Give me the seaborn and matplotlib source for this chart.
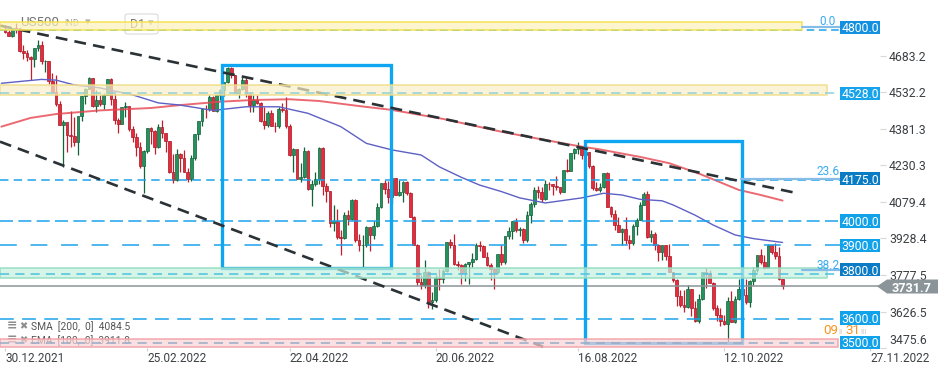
import matplotlib
matplotlib.use("Agg")
import matplotlib.pyplot as plt
import matplotlib.transforms as mtransforms
from matplotlib.patches import Rectangle, Polygon, FancyBboxPatch
from matplotlib.colors import to_rgba
import numpy as np
import pandas as pd
import seaborn as sns

# ---------------- data (daily candles, 30.12.2021 .. 03.11.2022) ----------------
opens = [4794, 4779, 4766, 4797, 4794, 4701, 4696, 4677, 4670, 4713,
         4726, 4659, 4663, 4577, 4533, 4483, 4398, 4410, 4356, 4350,
         4327, 4432, 4516, 4547, 4589, 4477, 4501, 4484, 4522, 4587,
         4504, 4419, 4402, 4471, 4475, 4380, 4349, 4305, 4226, 4289,
         4385, 4374, 4306, 4387, 4363, 4329, 4201, 4171, 4278, 4260,
         4204, 4173, 4262, 4358, 4412, 4463, 4461, 4512, 4456, 4520,
         4543, 4576, 4632, 4602, 4530, 4546, 4583, 4525, 4481, 4500,
         4488, 4413, 4397, 4447, 4393, 4392, 4462, 4459, 4394, 4272,
         4296, 4175, 4184, 4288, 4132, 4155, 4175, 4300, 4147, 4123,
         3991, 4001, 3935, 3930, 4024, 4008, 4089, 3924, 3901, 3901,
         3974, 3941, 3979, 4058, 4158, 4132, 4101, 4177, 4109, 4121,
         4161, 4116, 4018, 3901, 3750, 3735, 3790, 3667, 3675, 3765,
         3760, 3796, 3912, 3900, 3822, 3819, 3785, 3825, 3831, 3845,
         3903, 3899, 3854, 3819, 3802, 3790, 3863, 3831, 3937, 3960,
         3999, 3962, 3967, 3921, 4024, 4072, 4130, 4119, 4091, 4155,
         4152, 4145, 4140, 4122, 4210, 4207, 4280, 4297, 4305, 4274,
         4284, 4228, 4138, 4129, 4141, 4199, 4058, 4031, 3986, 3955,
         3967, 3924, 3908, 3980, 4006, 4067, 4110, 3933, 3946, 3901,
         3873, 3900, 3856, 3790, 3758, 3693, 3655, 3647, 3719, 3640,
         3586, 3678, 3791, 3783, 3745, 3640, 3612, 3589, 3577, 3670,
         3583, 3678, 3720, 3695, 3666, 3753, 3797, 3859, 3831, 3807,
         3901, 3872, 3856, 3760]
highs = [4808, 4787, 4797, 4819, 4798, 4725, 4707, 4680, 4715, 4749,
         4745, 4666, 4663, 4612, 4603, 4495, 4418, 4411, 4453, 4429,
         4433, 4516, 4550, 4595, 4590, 4540, 4521, 4527, 4588, 4590,
         4527, 4427, 4472, 4490, 4476, 4394, 4362, 4327, 4295, 4385,
         4389, 4375, 4401, 4417, 4365, 4330, 4277, 4299, 4280, 4292,
         4219, 4271, 4358, 4412, 4465, 4481, 4522, 4515, 4521, 4546,
         4576, 4637, 4635, 4605, 4548, 4593, 4594, 4527, 4521, 4520,
         4490, 4472, 4453, 4460, 4411, 4471, 4488, 4513, 4400, 4300,
         4299, 4240, 4308, 4295, 4169, 4201, 4308, 4305, 4158, 4125,
         4068, 4050, 3965, 4039, 4046, 4090, 4092, 3946, 3944, 3981,
         3976, 3999, 4075, 4158, 4169, 4167, 4177, 4179, 4169, 4164,
         4165, 4119, 4020, 3905, 3778, 3838, 3795, 3707, 3779, 3801,
         3802, 3913, 3928, 3945, 3836, 3822, 3829, 3832, 3870, 3910,
         3918, 3900, 3874, 3829, 3806, 3863, 3902, 3939, 3975, 3999,
         4013, 3975, 3970, 4040, 4079, 4140, 4144, 4141, 4168, 4162,
         4155, 4187, 4142, 4211, 4258, 4280, 4301, 4325, 4310, 4292,
         4286, 4230, 4160, 4157, 4200, 4203, 4062, 4044, 4016, 3971,
         4018, 3943, 3987, 4011, 4077, 4119, 4125, 3962, 3957, 3905,
         3900, 3902, 3907, 3792, 3760, 3715, 3717, 3737, 3720, 3672,
         3698, 3791, 3807, 3798, 3748, 3652, 3641, 3611, 3686, 3712,
         3689, 3762, 3725, 3763, 3758, 3810, 3862, 3886, 3860, 3906,
         3903, 3911, 3894, 3762]
lows = [4775, 4765, 4758, 4775, 4700, 4671, 4663, 4582, 4638, 4703,
        4650, 4614, 4568, 4531, 4475, 4395, 4222, 4287, 4305, 4309,
        4273, 4415, 4484, 4544, 4471, 4452, 4474, 4464, 4520, 4478,
        4402, 4364, 4400, 4429, 4373, 4328, 4267, 4221, 4115, 4280,
        4317, 4279, 4300, 4345, 4284, 4199, 4157, 4165, 4201, 4202,
        4162, 4165, 4251, 4335, 4393, 4425, 4455, 4455, 4450, 4501,
        4517, 4570, 4589, 4530, 4507, 4540, 4514, 4450, 4451, 4485,
        4408, 4381, 4390, 4392, 4367, 4385, 4452, 4385, 4268, 4201,
        4175, 4163, 4180, 4128, 4063, 4145, 4153, 4106, 4077, 3975,
        3958, 3928, 3859, 3925, 3984, 4005, 3912, 3876, 3810, 3895,
        3875, 3925, 3975, 4055, 4110, 4074, 4075, 4107, 4105, 4080,
        4107, 4018, 3901, 3735, 3722, 3723, 3640, 3637, 3665, 3717,
        3743, 3790, 3889, 3820, 3800, 3739, 3753, 3742, 3810, 3840,
        3876, 3850, 3814, 3759, 3722, 3785, 3818, 3825, 3928, 3927,
        3955, 3938, 3911, 3915, 3992, 4060, 4097, 4080, 4088, 4127,
        4107, 4128, 4112, 4120, 4201, 4205, 4256, 4277, 4255, 4262,
        4218, 4129, 4124, 4121, 4138, 4057, 4017, 3965, 3954, 3903,
        3907, 3886, 3900, 3944, 4004, 4065, 3929, 3913, 3880, 3837,
        3839, 3838, 3789, 3749, 3648, 3644, 3623, 3640, 3610, 3584,
        3580, 3675, 3723, 3745, 3633, 3589, 3569, 3570, 3492, 3584,
        3580, 3675, 3665, 3657, 3647, 3736, 3790, 3824, 3803, 3805,
        3863, 3843, 3758, 3722]
closes = [4779, 4766, 4797, 4794, 4701, 4696, 4677, 4670, 4713, 4726,
          4659, 4663, 4577, 4533, 4483, 4398, 4410, 4356, 4350, 4327,
          4432, 4516, 4547, 4589, 4477, 4501, 4484, 4522, 4587, 4504,
          4419, 4402, 4471, 4475, 4380, 4349, 4305, 4226, 4289, 4385,
          4374, 4306, 4387, 4363, 4329, 4201, 4171, 4278, 4260, 4204,
          4173, 4262, 4358, 4412, 4463, 4461, 4512, 4456, 4520, 4543,
          4576, 4632, 4602, 4530, 4546, 4583, 4525, 4481, 4500, 4488,
          4413, 4397, 4447, 4393, 4392, 4462, 4459, 4394, 4272, 4296,
          4175, 4184, 4288, 4132, 4155, 4175, 4300, 4147, 4123, 3991,
          4001, 3935, 3930, 4024, 4008, 4089, 3924, 3901, 3901, 3974,
          3941, 3979, 4058, 4158, 4132, 4101, 4177, 4109, 4121, 4161,
          4116, 4018, 3901, 3750, 3735, 3790, 3667, 3675, 3765, 3760,
          3796, 3912, 3900, 3822, 3819, 3785, 3825, 3831, 3845, 3903,
          3899, 3854, 3819, 3802, 3790, 3863, 3831, 3937, 3960, 3999,
          3962, 3967, 3921, 4024, 4072, 4130, 4119, 4091, 4155, 4152,
          4145, 4140, 4122, 4210, 4207, 4280, 4297, 4305, 4274, 4284,
          4228, 4138, 4129, 4141, 4199, 4058, 4031, 3986, 3955, 3967,
          3924, 3908, 3980, 4006, 4067, 4110, 3933, 3946, 3901, 3873,
          3900, 3856, 3790, 3758, 3693, 3655, 3647, 3719, 3640, 3586,
          3678, 3791, 3783, 3745, 3640, 3612, 3589, 3577, 3670, 3583,
          3678, 3720, 3695, 3666, 3753, 3797, 3859, 3831, 3807, 3901,
          3872, 3856, 3760, 3732]

# moving averages (bar index, value)
sma_idx = [-1, 7, 14, 26, 40, 48, 59, 68, 78, 86, 97, 106, 120, 136, 144,
           157, 163, 174, 182, 190, 201, 207, 213]
sma_vals = [4390, 4426, 4442, 4457, 4467, 4479, 4493, 4500, 4503, 4496, 4475,
            4459, 4422, 4369, 4346, 4310, 4296, 4265, 4239, 4197, 4129, 4108, 4085]
ema_idx = [-1, 10, 14, 19, 26, 35, 42, 48, 57, 66, 75, 83, 92, 99, 106, 114,
           119, 125, 130, 136, 141, 148, 158, 164, 169, 174, 180, 183, 189,
           194, 200, 205, 213]
ema_vals = [4569, 4585, 4582, 4562, 4550, 4521, 4488, 4479, 4457, 4472, 4472,
            4445, 4390, 4321, 4294, 4273, 4224, 4181, 4149, 4122, 4096, 4075,
            4096, 4115, 4108, 4090, 4084, 4067, 4025, 3984, 3943, 3928, 3912]

date_tick_pos = [0, 39, 78, 118, 157, 197, 237]
date_tick_labels = ["30.12.2021", "25.02.2022", "22.04.2022", "20.06.2022",
                    "16.08.2022", "12.10.2022", "27.11.2022"]
price_ticks = [4683.2, 4532.2, 4381.3, 4230.3, 4079.4, 3928.4, 3777.5, 3626.5, 3475.6]

level_values = [4800, 4528, 4175, 4000, 3900, 3800, 3600, 3500]
level_labels = ["4800.0", "4528.0", "4175.0", "4000.0", "3900.0", "3800.0", "3600.0", "3500.0"]
dashed_levels = [4788, 4170, 4000, 3900, 3597]
zone_low = [4787, 4520, 3764, 3481]
zone_high = [4820, 4562, 3805, 3514]
zone_mid = [4788, 4529, 3781, 3498]
fib_names = ["0.0", "23.6", "38.2"]
fib_values = [4801, 4174, 3798]
last_price = 3731.7

trend_upper_x, trend_upper_y = [-1.37, 215.9], [4807, 4119]
trend_lower_x, trend_lower_y = [-1.37, 147.4], [4328, 3482]
box1_x, box1_y = [59.5, 105.8], [3806, 4644]
box2_x, box2_y = [158.9, 201.9], [3499, 4332]

# ---------------- styling ----------------
sns.set_theme(style="white")
plt.rcParams["font.family"] = ["Roboto", "DejaVu Sans"]

W, H = 949, 373
fig = plt.figure(figsize=(W / 100, H / 100), dpi=100)
fig.patch.set_facecolor("white")
AX_BOTTOM = 348.35
AX_RIGHT = 880.0
ax = fig.add_axes([0, 1 - AX_BOTTOM / H, AX_RIGHT / W, AX_BOTTOM / H])
ax.set_facecolor("white")
ax.set_xlim(-1.37, 239.7)
ax.set_ylim(3475.0, 4912.7)
for s in ax.spines.values():
    s.set_visible(False)

def fx(px):
    return px / W

def fy(py):
    return 1 - py / H

blend = mtransforms.blended_transform_factory(ax.transAxes, ax.transData)

# ---------------- candles ----------------
x = np.arange(len(closes))
o = np.array(opens, float)
h = np.array(highs, float)
l = np.array(lows, float)
c = np.array(closes, float)
up = c >= o
body_lo = np.minimum(o, c)
body_h = np.maximum(np.abs(c - o), 2.5)
GREEN, GREEN_E = "#23935d", "#14603a"
RED, RED_E = "#e52b3c", "#a81624"
ax.vlines(x[up], l[up], h[up], color=GREEN_E, lw=0.9, zorder=2)
ax.vlines(x[~up], l[~up], h[~up], color="#c41e2e", lw=0.9, zorder=2)
ax.bar(x[up], body_h[up], bottom=body_lo[up], width=0.74, color=GREEN,
       edgecolor=GREEN_E, linewidth=0.5, zorder=2.5)
ax.bar(x[~up], body_h[~up], bottom=body_lo[~up], width=0.74, color=RED,
       edgecolor=RED_E, linewidth=0.5, zorder=2.5)

# ---------------- moving averages (seaborn) ----------------
sma_df = pd.DataFrame({"bar": sma_idx, "value": sma_vals})
ema_df = pd.DataFrame({"bar": ema_idx, "value": ema_vals})
sns.lineplot(data=sma_df, x="bar", y="value", ax=ax, color="#e6454f", lw=1.4,
             estimator=None, sort=False, zorder=3, alpha=0.8)
sns.lineplot(data=ema_df, x="bar", y="value", ax=ax, color="#5d60c4", lw=1.0,
             estimator=None, sort=False, zorder=3)
ax.set_xlabel("")
ax.set_ylabel("")

# ---------------- horizontal levels ----------------
BLUE = "#1ba3ea"
LINE_END = 840 / AX_RIGHT
dash_styles = [(0, (5, 3)), (0, (5.5, 3.5)), (0, (8.5, 3.5)), (0, (11, 9)), (0, (9, 5.5))]
for val, ds in zip(dashed_levels, dash_styles):
    ax.axhline(val, 0, LINE_END, color=BLUE, lw=1.1, ls=ds, zorder=3.5)

ax.axhline(last_price, 0, 1, color="#8a949a", lw=1.1, zorder=3.4)

# zones (semi transparent boxes)
zone_xmax = [802 / AX_RIGHT, 827 / AX_RIGHT, 827 / AX_RIGHT, 838 / AX_RIGHT]
zone_fc = ["#fbf1bd", "#f8efc6", "#c6f0df", "#f9d3d6"]
zone_ec = ["#f7e245", "#efdd86", "#90dcbf", "#f2a0a6"]
zone_mid_col = ["#1ba3ea", "#8fd0d8", "#4cc2e0", "#98acc6"]
for lo, hi, xm, fc, ec, mc, mid in zip(zone_low, zone_high, zone_xmax, zone_fc,
                                       zone_ec, zone_mid_col, zone_mid):
    ax.add_patch(Rectangle((0, lo), xm, hi - lo, transform=blend,
                           facecolor=to_rgba(fc, 0.7), edgecolor=to_rgba(ec, 0.9),
                           lw=1.1, zorder=5.8))
    if mid != 4788:
        ax.axhline(mid, 0, LINE_END, color=mc, lw=1.1, ls=(0, (6, 4)), zorder=5.9)

# fibonacci levels
fib_start = [802 / AX_RIGHT, 741 / AX_RIGHT, 802 / AX_RIGHT]
for val, xs in zip(fib_values, fib_start):
    ax.axhline(val, xs, LINE_END, color="#86bde8", lw=1.6, zorder=6)
fib_label_y = [4823, 4205, 3818]
for name, yv in zip(fib_names, fib_label_y):
    ax.text(828 / AX_RIGHT, yv, name, transform=blend, ha="center", va="center",
            color="#3aaaf0", fontsize=8.5, zorder=6.5)

# blue rectangles
for bx, by in [(box1_x, box1_y), (box2_x, box2_y)]:
    ax.add_patch(Rectangle((bx[0], by[0]), bx[1] - bx[0], by[1] - by[0],
                           fill=False, edgecolor="#0ea6f0", lw=2.4, zorder=5))

# dashed trend lines
for tx, ty in [(trend_upper_x, trend_upper_y), (trend_lower_x, trend_lower_y)]:
    ax.plot(tx, ty, color="#2b3236", lw=1.9, ls=(0, (4.5, 2.7)), zorder=5.5,
            dash_capstyle="butt")

# level label boxes on the right
box_cols = ["#1490e0", "#16a3ec", "#0b7cc4", "#12a2ea", "#12a2ea", "#0b7cc4",
            "#12a2ea", "#12a2ea"]
box_h = 13.4 / 0.24229
for val, txt, col in zip(level_values, level_labels, box_cols):
    ax.add_patch(Rectangle((LINE_END, val - box_h / 2), 1 - LINE_END, box_h,
                           transform=blend, facecolor=col, edgecolor="none",
                           zorder=7, clip_on=False))
    ax.text((LINE_END + 1) / 2, val, txt, transform=blend, ha="center",
            va="center_baseline", color="white", fontsize=8.8, zorder=7.5,
            clip_on=False)

# ---------------- axes ticks ----------------
ax.yaxis.tick_right()
ax.set_yticks(price_ticks)
ax.set_yticklabels([f"{v:.1f}" for v in price_ticks[:-1]] + [""])
ax.tick_params(axis="y", which="both", left=False, right=True, labelleft=False,
               labelright=True, length=4, width=0.8, color="#d8d8d8", pad=2.5,
               labelsize=8.8, labelcolor="#3c4043")
ax.text(1.0 + 9.5 / AX_RIGHT, price_ticks[-1] + 3, f"{price_ticks[-1]:.1f}",
        transform=blend, ha="left", va="bottom", fontsize=8.8, color="#3c4043",
        clip_on=False)

ax.set_xticks(date_tick_pos)
ax.set_xticklabels(date_tick_labels, ha="left")
ax.tick_params(axis="x", which="both", bottom=True, length=2.2, width=0.8,
               color="#d0d0d0", pad=0.5, labelsize=8.5, labelcolor="#3c4043")
ax.grid(False)

# ---------------- overlay texts ----------------
# header (under the top yellow zone)
ax.text(fx(20), fy(23), "US500", transform=fig.transFigure, ha="left", va="center",
        fontsize=9.5, color="#707070", zorder=1.5)
ax.text(fx(64), fy(24), "IND", transform=fig.transFigure, ha="left", va="center",
        fontsize=6.5, color="#a0a0a0", zorder=1.5)
ax.text(fx(85), fy(22), "\u25BE", transform=fig.transFigure, ha="left", va="center",
        fontsize=8, color="#b0b0b0", zorder=1.5, family="DejaVu Sans")
ax.add_patch(FancyBboxPatch((fx(125), fy(34)), fx(33), 20 / H,
                            boxstyle="round,pad=0,rounding_size=0.004",
                            transform=fig.transFigure, facecolor="white",
                            edgecolor="#dedede", lw=0.9, zorder=1.4, clip_on=False))
ax.text(fx(130), fy(24), "D1", transform=fig.transFigure, ha="left", va="center",
        fontsize=9, color="#777777", zorder=1.5)
ax.text(fx(148), fy(23), "\u25BE", transform=fig.transFigure, ha="left", va="center",
        fontsize=8, color="#b0b0b0", zorder=1.5, family="DejaVu Sans")

# indicator legend (bottom left)
for py, txt in [(327, "SMA  [200,  0]  4084.5"), (341, "EMA  [100,  0]  3911.8")]:
    ax.text(fx(7), fy(py - 1), "\u2261", transform=fig.transFigure, ha="left",
            va="center", fontsize=9, color="#8c8c8c", zorder=1.6,
            family="DejaVu Sans", weight="bold")
    ax.text(fx(19), fy(py - 1), "\u2716", transform=fig.transFigure, ha="left",
            va="center", fontsize=7, color="#8c8c8c", zorder=1.6,
            family="DejaVu Sans")
    ax.text(fx(31), fy(py), txt, transform=fig.transFigure, ha="left",
            va="center", fontsize=7.4, color="#555555", zorder=1.6)

# countdown
ax.text(fx(823), fy(331), "09", transform=fig.transFigure, ha="left", va="center",
        fontsize=9.6, color="#f7941d", zorder=6.6)
ax.text(fx(838), fy(332), "\u0131\u0131", transform=fig.transFigure, ha="left",
        va="center", fontsize=6.5, color="#c8c8c8", zorder=6.6)
ax.text(fx(845), fy(331), "31", transform=fig.transFigure, ha="left", va="center",
        fontsize=9.6, color="#f7941d", zorder=6.6)
ax.text(fx(860), fy(332), "\u0131\u0131\u0131", transform=fig.transFigure, ha="left",
        va="center", fontsize=6.5, color="#c8c8c8", zorder=6.6)

# current price tag
py0 = 286.3
tag = Polygon([(fx(877), fy(py0)), (fx(887), fy(py0 - 6.8)), (fx(938), fy(py0 - 6.8)),
               (fx(938), fy(py0 + 7.2)), (fx(887), fy(py0 + 7.2))], closed=True,
              transform=fig.transFigure, facecolor="#8a9499", edgecolor="none")
fig.add_artist(tag)
fig.text(fx(912), fy(py0 + 0.3), f"{last_price:.1f}", ha="center", va="center_baseline",
         color="white", fontsize=9.2, weight="bold")

fig.savefig("out.png", dpi=100)
